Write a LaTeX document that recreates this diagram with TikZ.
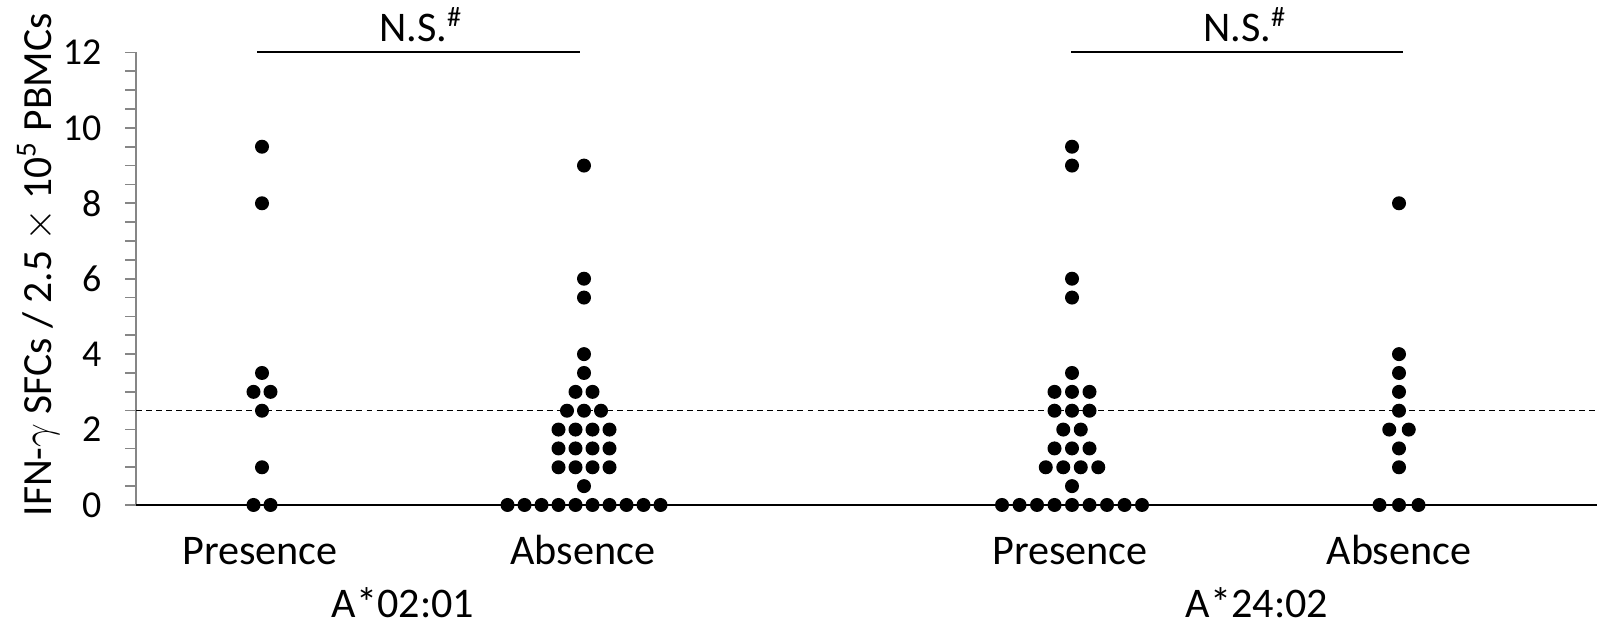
\documentclass[tikz,border=0pt]{standalone}
\usepackage{fontspec}
\setmainfont{Carlito}
\usepackage{tikz}
\usetikzlibrary{positioning}
\usepackage{xcolor}
\definecolor{axisgray}{HTML}{868686}
\tikzset{
  axisline/.style={draw=axisgray, line width=0.45pt},
  zeroline/.style={draw=black, line width=0.55pt},
  cutoff/.style={draw=black, line width=0.45pt, dash pattern=on 1.7pt off 1.15pt},
  sigbar/.style={draw=black, line width=0.6pt},
  datadot/.style={fill=black},
  ticklbl/.style={font=\fontsize{10.8}{12}\selectfont, anchor=east, inner sep=0pt},
  catlbl/.style={font=\fontsize{12}{14}\selectfont, anchor=base, inner sep=0pt},
  grplbl/.style={catlbl},
  siglbl/.style={catlbl},
  ylbl/.style={font=\fontsize{11.8}{14}\selectfont, rotate=90, anchor=base, inner sep=0pt},
}
%% one row of dots: centre x, gap, value, count
\newcommand{\dotrow}[4]{%
  \foreach \k in {1,...,#4}
    \fill[datadot] ({#1+(\k-(#4+1)/2)*#2}, #3) circle[radius=0.07cm];
}

\begin{document}
\begin{tikzpicture}[x=0.01cm, y=0.01cm]   %% 1 unit = 1 pixel of the figure
  \useasboundingbox (0,0) rectangle (1597,625);

  %% ── Data area: x in pixels, y in SFC values ─────────────────────────────
  \begin{scope}[shift={(0,120)}, y=0.3769cm]

    %% ── Axes ──────────────────────────────────────────────────────────────
    \draw[axisline] (136,0) -- (136,12);
    \foreach \v in {0,0.5,...,12}
      \draw[axisline] (125,\v) -- (136,\v);
    \foreach \v in {0,2,...,12}
      \node[ticklbl] (tick\v) at (102,\v) {\v};
    \draw[zeroline] (136,0) -- (1597,0);
    \draw[cutoff]   (136,2.5) -- (1597,2.5);

    %% ── Significance bars ─────────────────────────────────────────────────
    \draw[sigbar] (257,12) -- (580,12);
    \draw[sigbar] (1071,12) -- (1403,12);

    %% ── A*02:01 presence ──────────────────────────────────────────────────
    \foreach \v/\n in {9.5/1, 8/1, 3.5/1, 3/2, 2.5/1, 1/1, 0/2}
      {\dotrow{262}{17}{\v}{\n}}

    %% ── A*02:01 absence ───────────────────────────────────────────────────
    \foreach \v/\n in {9/1, 6/1, 5.5/1, 4/1, 3.5/1, 3/2, 2.5/3,
                       2/4, 1.5/4, 1/4, 0.5/1, 0/10}
      {\dotrow{584}{17}{\v}{\n}}

    %% ── A*24:02 presence ──────────────────────────────────────────────────
    \foreach \v/\n in {9.5/1, 9/1, 6/1, 5.5/1, 3.5/1, 3/3, 2.5/3,
                       2/2, 1.5/3, 1/4, 0.5/1, 0/9}
      {\dotrow{1072}{17.5}{\v}{\n}}

    %% ── A*24:02 absence ───────────────────────────────────────────────────
    \foreach \v/\n in {8/1, 4/1, 3.5/1, 3/1, 2.5/1, 2/2, 1.5/1, 1/1, 0/3}
      {\dotrow{1399}{19.5}{\v}{\n}}
  \end{scope}

  %% ── Labels ───────────────────────────────────────────────────────────────
  \node[siglbl] (ns1) at (421,583) {N.S.\textsuperscript{\#}};
  \node[siglbl] (ns2) at (1245,583) {N.S.\textsuperscript{\#}};

  \node[catlbl] (pres1) at (260,60)  {Presence};
  \node[catlbl] (abs1)  at (583,60)  {Absence};
  \node[catlbl] (pres2) at (1070,60) {Presence};
  \node[catlbl] (abs2)  at (1399,60) {Absence};

  \node[grplbl] (grp1) at (403,7)  {A*02:01};
  \node[grplbl] (grp2) at (1257,7) {A*24:02};

  \node[ylbl] (ylabel) at (51,360)
    {IFN-$\gamma$ SFCs / 2.5 $\times$ 10\textsuperscript{5} PBMCs};

\end{tikzpicture}
\end{document}
